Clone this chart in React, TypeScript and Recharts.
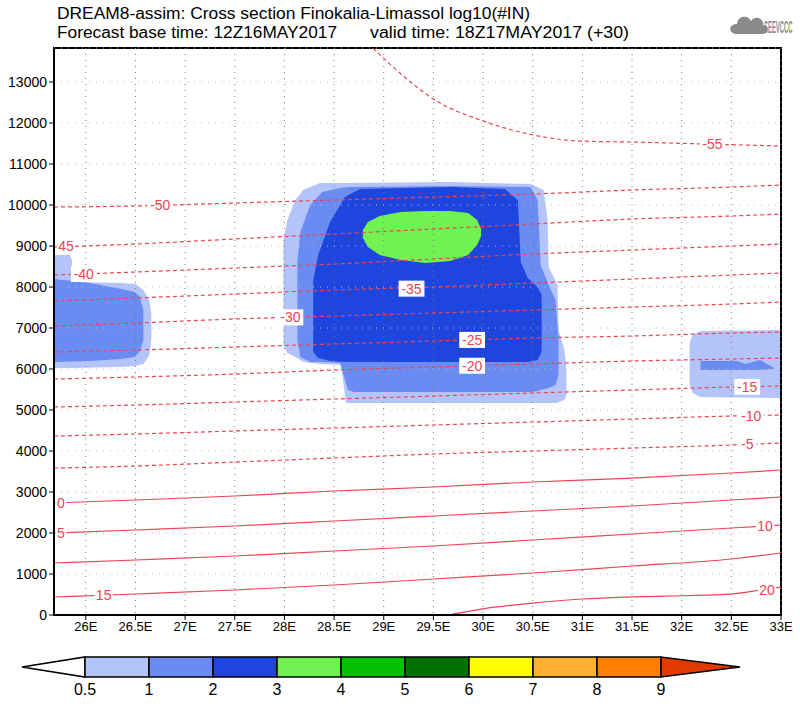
import React from "react";
import {
  ComposedChart,
  Area,
  Line,
  Scatter,
  XAxis,
  YAxis,
  CartesianGrid,
  ReferenceArea,
} from "recharts";

const X_MIN = 25.68;
const X_MAX = 33;
const Y_MAX = 13830;

const LON_TICKS = [26, 26.5, 27, 27.5, 28, 28.5, 29, 29.5, 30, 30.5, 31, 31.5, 32, 32.5, 33];
const HEIGHT_TICKS = [0, 1000, 2000, 3000, 4000, 5000, 6000, 7000, 8000, 9000, 10000, 11000, 12000, 13000];

// isotherm heights (m) read at these longitudes
const ISO_LON = [25.68, 26.5, 27.5, 28.5, 29.5, 30.5, 31.5, 32.5, 33];
const T_M50 = [9951, 9976, 10049, 10122, 10195, 10268, 10366, 10439, 10488];
const T_M45 = [8976, 9049, 9171, 9293, 9415, 9537, 9659, 9732, 9780];
const T_M40 = [8293, 8366, 8463, 8561, 8683, 8805, 8902, 9000, 9049];
const T_M35 = [7659, 7732, 7829, 7927, 8000, 8098, 8195, 8293, 8341];
const T_M30 = [7049, 7122, 7220, 7293, 7366, 7439, 7512, 7585, 7634];
const T_M25 = [6415, 6463, 6537, 6610, 6683, 6756, 6805, 6878, 6902];
const T_M20 = [5756, 5805, 5878, 5976, 6049, 6122, 6195, 6244, 6268];
const T_M15 = [5073, 5122, 5195, 5268, 5341, 5415, 5488, 5561, 5585];
const T_M10 = [4366, 4415, 4488, 4561, 4634, 4707, 4780, 4854, 4878];
const T_M5 = [3585, 3634, 3732, 3829, 3927, 4000, 4073, 4146, 4195];
const T_0 = [2732, 2805, 2902, 3024, 3122, 3244, 3341, 3463, 3537];
const T_5 = [2000, 2073, 2171, 2293, 2415, 2537, 2659, 2805, 2878];
const T_10 = [1268, 1341, 1439, 1561, 1683, 1829, 1976, 2122, 2195];
const T_15 = [439, 512, 610, 732, 878, 1024, 1195, 1366, 1512];

const T_M55_LON = [28.89, 29.27, 29.5, 30.0, 30.51, 30.98, 31.48, 32.24, 33.0];
const T_M55 = [13830, 13000, 12585, 12050, 11707, 11560, 11537, 11488, 11440];
const T_20_LON = [29.65, 30.0, 30.5, 31.0, 31.5, 32.0, 32.5, 32.8, 33.0];
const T_20 = [0, 150, 290, 390, 440, 470, 510, 610, 680];

// log10(#IN) shaded areas: [lon, bottom m, top m]
const LEFT_05 = [
  [25.68, 6024, 8780], [25.84, 6024, 8780], [25.86, 6024, 8660], [25.87, 6024, 8122],
  [26.36, 6049, 8098], [26.5, 6073, 8073], [26.58, 6122, 7927], [26.64, 6341, 7683], [26.66, 6707, 7317],
];
const LEFT_1 = [
  [25.68, 6171, 8195], [26.04, 6195, 8098], [26.36, 6244, 7951], [26.49, 6293, 7878],
  [26.54, 6415, 7780], [26.58, 6707, 7439],
];
const MID_05 = [
  [27.99, 6585, 9146], [28.03, 6390, 9634], [28.11, 6293, 10122], [28.19, 6171, 10366],
  [28.36, 6122, 10537], [28.57, 6098, 10537], [28.62, 5171, 10537], [29.67, 5171, 10561],
  [30.48, 5171, 10512], [30.61, 5171, 10366], [30.65, 5171, 9634], [30.66, 5171, 8488],
  [30.75, 5171, 8049], [30.76, 5195, 6951], [30.82, 5244, 6463], [30.84, 5366, 5976],
];
const MID_1 = [
  [28.13, 6707, 8610], [28.16, 6293, 9341], [28.26, 6171, 10000], [28.38, 6171, 10317],
  [28.56, 6146, 10415], [28.64, 5488, 10439], [28.7, 5439, 10439], [29.67, 5439, 10463],
  [30.48, 5439, 10439], [30.55, 5463, 10122], [30.58, 5488, 8537], [30.66, 5537, 8049],
  [30.73, 5610, 7683], [30.76, 5854, 6707],
];
const MID_2 = [
  [28.29, 6415, 8171], [28.34, 6268, 8780], [28.46, 6195, 9585], [28.61, 6171, 10195],
  [28.76, 6171, 10390], [29.67, 6171, 10439], [30.22, 6171, 10390], [30.35, 6171, 10122],
  [30.38, 6171, 8610], [30.45, 6171, 8220], [30.55, 6220, 8000], [30.59, 6415, 7805],
];
const MID_3 = [
  [28.79, 9195, 9390], [28.84, 8976, 9585], [28.96, 8780, 9732], [29.17, 8659, 9829],
  [29.42, 8585, 9854], [29.67, 8634, 9854], [29.85, 8780, 9805], [29.94, 9024, 9634],
  [29.98, 9244, 9415],
];
const RIGHT_05 = [
  [32.08, 5610, 6634], [32.11, 5415, 6829], [32.19, 5317, 6927], [33.0, 5293, 6951],
];
const RIGHT_1 = [
  [32.19, 5976, 6195], [32.56, 5976, 6195], [32.64, 5976, 6122], [32.79, 5976, 6220], [32.93, 6000, 6024],
];

const ISO_LABELS = [
  { lon: 32.31, h: 11480, text: "-55" },
  { lon: 26.75, h: 9995, text: "-50" },
  { lon: 25.8, h: 8990, text: "45" },
  { lon: 25.98, h: 8320, text: "-40" },
  { lon: 29.28, h: 7960, text: "-35" },
  { lon: 28.06, h: 7260, text: "-30" },
  { lon: 29.89, h: 6710, text: "-25" },
  { lon: 29.89, h: 6080, text: "-20" },
  { lon: 32.66, h: 5565, text: "-15" },
  { lon: 32.7, h: 4860, text: "-10" },
  { lon: 32.66, h: 4160, text: "-5" },
  { lon: 25.75, h: 2740, text: "0" },
  { lon: 25.75, h: 2005, text: "5" },
  { lon: 32.84, h: 2170, text: "10" },
  { lon: 26.18, h: 485, text: "15" },
  { lon: 32.86, h: 620, text: "20" },
];

const SHADE_LEVELS = ["0.5", "1", "2", "3", "4", "5", "6", "7", "8", "9"];
const SHADE_COLORS = ["#b4c4fa", "#6a8cf2", "#1e46de", "#70f250", "#00c000", "#007200", "#ffff00", "#ffb131", "#ff7f00"];
const SHADE_TOP = "#e03a00";

const RED = "#ec4452";
const FONT = "'Liberation Sans', Arial, sans-serif";

const toLine = (lons: number[], hs: number[]) => lons.map((lon, i) => ({ lon, h: hs[i] }));
const toBand = (rows: number[][]) => rows.map(([lon, lo, hi]) => ({ lon, band: [lo, hi] }));

const ISOTHERMS = [
  { id: "m55", data: toLine(T_M55_LON, T_M55), dashed: true },
  { id: "m50", data: toLine(ISO_LON, T_M50), dashed: true },
  { id: "m45", data: toLine(ISO_LON, T_M45), dashed: true },
  { id: "m40", data: toLine(ISO_LON, T_M40), dashed: true },
  { id: "m35", data: toLine(ISO_LON, T_M35), dashed: true },
  { id: "m30", data: toLine(ISO_LON, T_M30), dashed: true },
  { id: "m25", data: toLine(ISO_LON, T_M25), dashed: true },
  { id: "m20", data: toLine(ISO_LON, T_M20), dashed: true },
  { id: "m15", data: toLine(ISO_LON, T_M15), dashed: true },
  { id: "m10", data: toLine(ISO_LON, T_M10), dashed: true },
  { id: "m5", data: toLine(ISO_LON, T_M5), dashed: true },
  { id: "p0", data: toLine(ISO_LON, T_0), dashed: false },
  { id: "p5", data: toLine(ISO_LON, T_5), dashed: false },
  { id: "p10", data: toLine(ISO_LON, T_10), dashed: false },
  { id: "p15", data: toLine(ISO_LON, T_15), dashed: false },
  { id: "p20", data: toLine(T_20_LON, T_20), dashed: false },
];

const SHADES = [
  { id: "l05", data: toBand(LEFT_05), fill: SHADE_COLORS[0] },
  { id: "m05", data: toBand(MID_05), fill: SHADE_COLORS[0] },
  { id: "r05", data: toBand(RIGHT_05), fill: SHADE_COLORS[0] },
  { id: "l1", data: toBand(LEFT_1), fill: SHADE_COLORS[1] },
  { id: "m1", data: toBand(MID_1), fill: SHADE_COLORS[1] },
  { id: "r1", data: toBand(RIGHT_1), fill: SHADE_COLORS[1] },
  { id: "m2", data: toBand(MID_2), fill: SHADE_COLORS[2] },
  { id: "m3", data: toBand(MID_3), fill: SHADE_COLORS[3] },
];

const IsoLabel = (props: any) => {
  const { cx, cy, payload } = props;
  const w = payload.text.length * 7.6 + 3;
  return (
    <g>
      <rect x={cx - w / 2} y={cy - 8} width={w} height={16} fill="#fff" />
      <text x={cx} y={cy + 5} textAnchor="middle" fontSize={14} fill={RED} fontFamily={FONT}>
        {payload.text}
      </text>
    </g>
  );
};

const Overlay = () => {
  const x0 = 85;
  const step = 64;
  const top = 657;
  const bot = 677;
  const mid = (top + bot) / 2;
  const xEnd = x0 + step * SHADE_COLORS.length;
  return (
    <svg width={800} height={704} style={{ position: "absolute", left: 0, top: 0, pointerEvents: "none" }}>
      <g fontFamily={FONT} fill="#000" fontSize={16}>
        <text x={57} y={19} textLength={473} lengthAdjust="spacingAndGlyphs">
          DREAM8-assim: Cross section Finokalia-Limassol log10(#IN)
        </text>
        <text x={57} y={38} textLength={280} lengthAdjust="spacingAndGlyphs">
          Forecast base time: 12Z16MAY2017
        </text>
        <text x={370} y={38} textLength={259} lengthAdjust="spacingAndGlyphs">
          valid time: 18Z17MAY2017 (+30)
        </text>
      </g>
      <g fill="#8a8a8a">
        <path d="M737 34 C728 34 728 24 737 24 C737 16 748 14 751 21 C755 15 764 18 763 25 C769 25 769 34 763 34 Z" />
        <g transform="translate(764 33) scale(0.37 1)">
          <text x={0} y={0} fontSize={16} fontWeight="bold" fontFamily={FONT}>
            SEEVCCC
          </text>
        </g>
      </g>
      <polygon points={`${x0},${top} ${x0},${bot} 22,${mid}`} fill="#fff" stroke="#000" strokeWidth={1.5} />
      {SHADE_COLORS.map((c, i) => (
        <rect key={c} x={x0 + i * step} y={top} width={step} height={bot - top} fill={c} stroke="#000" strokeWidth={1.5} />
      ))}
      <polygon points={`${xEnd},${top} ${xEnd},${bot} 740,${mid}`} fill={SHADE_TOP} stroke="#000" strokeWidth={1.5} />
      <g fontFamily={FONT} fontSize={16} textAnchor="middle" fill="#000">
        {SHADE_LEVELS.map((t, i) => (
          <text key={t} x={x0 + i * step} y={695}>
            {t}
          </text>
        ))}
      </g>
    </svg>
  );
};

export default function App() {
  return (
    <div style={{ position: "absolute", left: 0, top: 0, width: 800, height: 704, background: "#fff" }}>
      <ComposedChart width={800} height={704} margin={{ top: 48, right: 19, bottom: 59, left: 0 }}>
        <XAxis
          dataKey="lon"
          type="number"
          domain={[X_MIN, X_MAX]}
          ticks={LON_TICKS}
          allowDataOverflow
          height={30}
          tickFormatter={(v: number) => `${v}E`}
          tick={{ fontSize: 13, fill: "#000", fontFamily: FONT }}
          tickSize={5}
          tickLine={{ stroke: "#000" }}
          axisLine={{ stroke: "#000", strokeWidth: 2 }}
        />
        <YAxis
          type="number"
          domain={[0, Y_MAX]}
          ticks={HEIGHT_TICKS}
          allowDataOverflow
          width={54}
          tick={{ fontSize: 14, fill: "#000", fontFamily: FONT }}
          tickSize={5}
          tickLine={{ stroke: "#000" }}
          axisLine={{ stroke: "#000", strokeWidth: 2 }}
        />
        {SHADES.map((s) => (
          <Area
            key={s.id}
            data={s.data}
            dataKey="band"
            type="linear"
            stroke="none"
            fill={s.fill}
            fillOpacity={1}
            isAnimationActive={false}
            dot={false}
            activeDot={false}
          />
        ))}
        <CartesianGrid horizontal={false} stroke="#777" strokeDasharray="1 5" zIndex={150} />
        <CartesianGrid vertical={false} stroke="#bbb" strokeDasharray="1 6" zIndex={150} />
        {ISOTHERMS.map((l) => (
          <Line
            key={l.id}
            data={l.data}
            dataKey="h"
            type="monotone"
            stroke={RED}
            strokeWidth={1.2}
            strokeDasharray={l.dashed ? "4 3" : undefined}
            dot={false}
            activeDot={false}
            isAnimationActive={false}
          />
        ))}
        <Scatter data={ISO_LABELS} dataKey="h" shape={IsoLabel} isAnimationActive={false} />
        <ReferenceArea x1={X_MIN} x2={X_MAX} y1={0} y2={Y_MAX} fill="none" stroke="#000" strokeWidth={2} ifOverflow="visible" />
      </ComposedChart>
      <Overlay />
    </div>
  );
}
